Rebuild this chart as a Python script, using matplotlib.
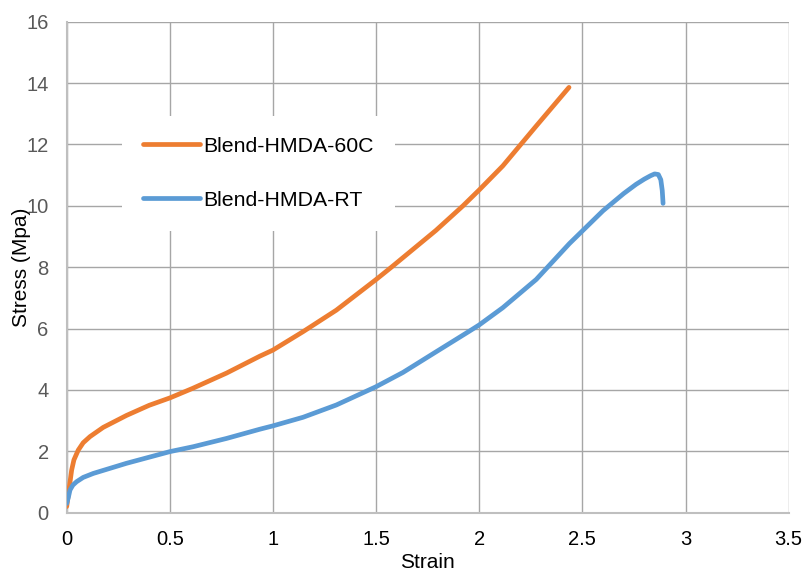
import matplotlib
matplotlib.use("Agg")
import matplotlib.pyplot as plt

plt.rcParams["font.family"] = ["Liberation Sans", "DejaVu Sans"]

# Blend-HMDA-60C (orange)
strain_60c = [0.0, 0.008, 0.024, 0.035, 0.056, 0.08, 0.113, 0.177, 0.29, 0.40,
              0.50, 0.61, 0.775, 0.936, 1.0, 1.146, 1.307, 1.50, 1.574, 1.79,
              1.921, 2.0, 2.114, 2.195, 2.276, 2.435]
stress_60c = [0.2, 0.6, 1.39, 1.72, 2.04, 2.28, 2.48, 2.78, 3.17, 3.5,
              3.74, 4.05, 4.55, 5.1, 5.3, 5.9, 6.6, 7.6, 8.0, 9.2,
              10.0, 10.52, 11.3, 11.95, 12.6, 13.86]

# Blend-HMDA-RT (blue)
strain_rt = [0.0, 0.008, 0.016, 0.03, 0.048, 0.08, 0.129, 0.29, 0.5, 0.613,
             0.775, 0.936, 1.0, 1.146, 1.307, 1.498, 1.63, 1.79, 1.953, 2.0,
             2.114, 2.276, 2.437, 2.60, 2.70, 2.76, 2.80, 2.83, 2.85, 2.868,
             2.88, 2.887, 2.891]
stress_rt = [0.3, 0.5, 0.74, 0.9, 1.01, 1.15, 1.28, 1.61, 1.99, 2.15,
             2.42, 2.72, 2.83, 3.11, 3.51, 4.10, 4.57, 5.24, 5.92, 6.12,
             6.68, 7.6, 8.77, 9.84, 10.4, 10.7, 10.87, 10.98, 11.04, 11.02,
             10.85, 10.5, 10.08]

x_ticks = [0, 0.5, 1, 1.5, 2, 2.5, 3, 3.5]
x_tick_labels = ["0", "0.5", "1", "1.5", "2", "2.5", "3", "3.5"]
y_ticks = [0, 2, 4, 6, 8, 10, 12, 14, 16]

fig = plt.figure(figsize=(8.07, 5.71), dpi=100)
ax = fig.add_axes([66.7 / 807, 1 - 512.7 / 571, (788.7 - 66.7) / 807, (512.7 - 21.7) / 571])

ax.plot(strain_60c, stress_60c, color="#ED7D31", lw=3.4, solid_capstyle="round",
        solid_joinstyle="round", label="Blend-HMDA-60C", zorder=3)
ax.plot(strain_rt, stress_rt, color="#5B9BD5", lw=3.4, solid_capstyle="round",
        solid_joinstyle="round", label="Blend-HMDA-RT", zorder=3)

ax.set_xlim(0, 3.5)
ax.set_ylim(0, 16)
ax.set_xticks(x_ticks)
ax.set_xticklabels(x_tick_labels)
ax.set_yticks(y_ticks)
ax.grid(True, color="#a6a6a6", lw=1.0)
ax.set_axisbelow(True)

for side in ["top", "right"]:
    ax.spines[side].set_visible(False)
for side in ["left", "bottom"]:
    ax.spines[side].set_color("#bfbfbf")
    ax.spines[side].set_linewidth(1.5)

ax.tick_params(axis="both", length=0, labelsize=14.5)
ax.tick_params(axis="x", colors="black", pad=12.5)
ax.tick_params(axis="y", labelcolor="#595959", pad=13)

ax.set_xlabel("Strain", fontsize=15)
ax.set_ylabel("Stress (Mpa)", fontsize=15)
ax.xaxis.set_label_coords(0.5, -0.082)
ax.yaxis.set_label_coords(-0.05, 0.5)

leg = ax.legend(loc="upper left", bbox_to_anchor=(121.75 / 807, 1 - 115.5 / 571),
                bbox_transform=fig.transFigure, borderaxespad=0, fontsize=15.3,
                frameon=True, fancybox=False, framealpha=1, edgecolor="none",
                handlelength=2.7, handletextpad=0.15, labelspacing=1.64,
                borderpad=1.0)

fig.savefig("out.png", dpi=100)
